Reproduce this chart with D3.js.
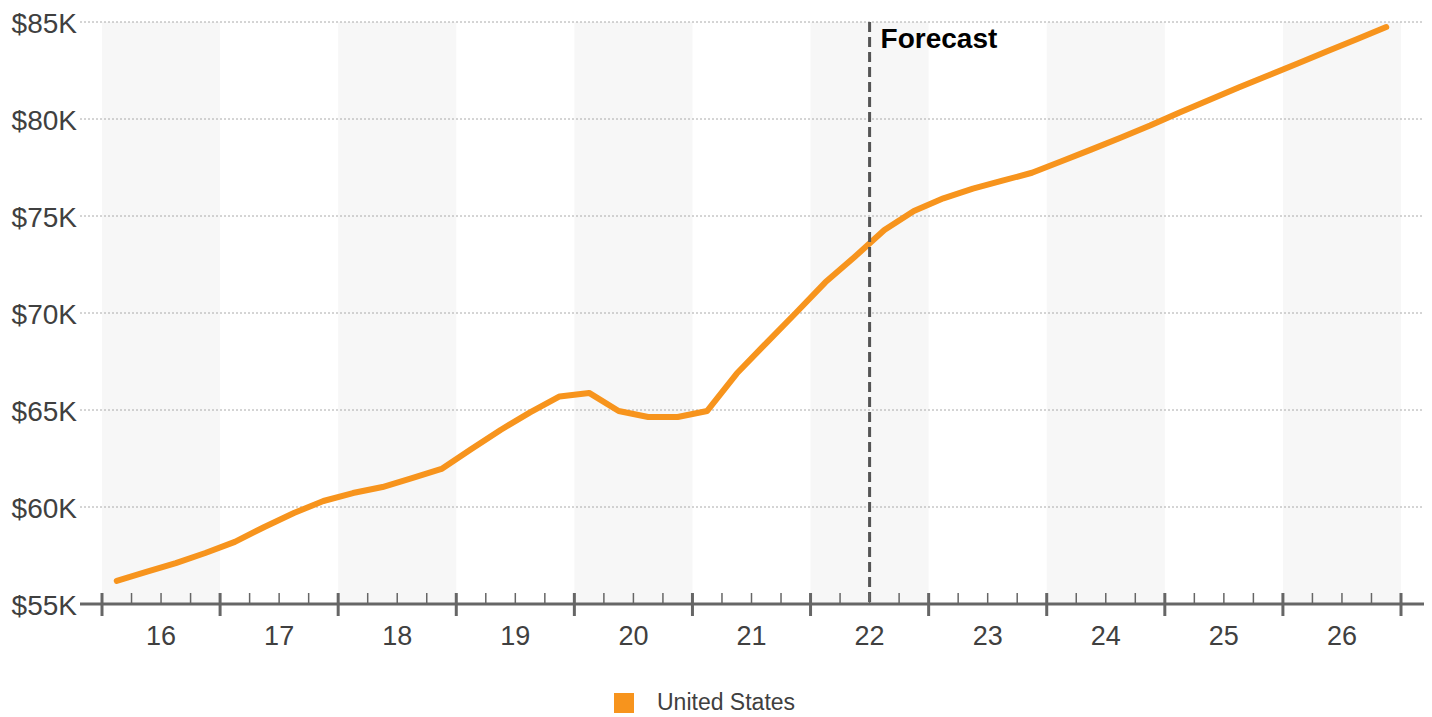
<!DOCTYPE html>
<html>
<head>
<meta charset="utf-8">
<script src="https://cdn.jsdelivr.net/npm/d3@7"></script>
<style>
  html, body { margin: 0; padding: 0; background: #fff; }
  svg { display: block; font-family: "Liberation Sans", Arial, sans-serif; }
</style>
</head>
<body>
<svg id="chart" width="1432" height="717"></svg>
<script>
// Years shown on the axis (two-digit labels) and quarterly values in $K
const years = [16, 17, 18, 19, 20, 21, 22, 23, 24, 25, 26];
const yTicks = [55, 60, 65, 70, 75, 80, 85];
const seriesName = "United States";
const values = [
  56.19, 56.65, 57.11, 57.63,   // 2016
  58.20, 58.97, 59.69, 60.31,   // 2017
  60.72, 61.03, 61.49, 61.96,   // 2018
  62.98, 63.97, 64.88, 65.70,   // 2019
  65.88, 64.95, 64.64, 64.64,   // 2020
  64.95, 66.88, 68.45, 70.00,   // 2021
  71.58, 72.90, 74.28, 75.26,   // 2022
  75.91, 76.41, 76.82, 77.23,   // 2023
  77.82, 78.42, 79.03, 79.66,   // 2024
  80.34, 80.98, 81.62, 82.24,   // 2025
  82.86, 83.49, 84.11, 84.74    // 2026
];
const forecastStart = 22.5; // forecast begins mid-2022

const svg = d3.select("#chart");
const plotL = 102, plotR = 1401, plotT = 22, plotB = 604;

// Continuous time scale in fractional years
const x = d3.scaleLinear().domain([years[0], years[years.length - 1] + 1]).range([plotL, plotR]);
const y = d3.scaleLinear().domain([55, 85]).range([plotB, plotT]);

// Alternating year bands
svg.append("g").selectAll("rect")
  .data(years.filter((d, i) => i % 2 === 0))
  .join("rect")
  .attr("x", d => x(d))
  .attr("y", plotT)
  .attr("width", d => x(d + 1) - x(d))
  .attr("height", plotB - plotT)
  .attr("fill", "#f7f7f7");

// Horizontal dotted gridlines
svg.append("g").selectAll("line")
  .data(yTicks.filter(d => d !== 55))
  .join("line")
  .attr("x1", 80).attr("x2", 1424)
  .attr("y1", d => y(d)).attr("y2", d => y(d))
  .attr("stroke", "#aaa")
  .attr("stroke-width", 1)
  .attr("stroke-dasharray", "2,2");

// Y axis labels
const yAxis = d3.axisLeft(y).tickValues(yTicks).tickSize(0).tickPadding(0)
  .tickFormat(d => "$" + d + "K");
svg.append("g")
  .attr("transform", `translate(77,0)`)
  .call(yAxis)
  .call(g => g.select(".domain").remove())
  .call(g => g.selectAll("text")
    .attr("font-family", "'Liberation Sans', Arial, sans-serif")
    .attr("font-size", 28)
    .attr("fill", "#404040")
    .attr("dy", "0.36em"));

// Line series at quarter midpoints
const pts = values.map((v, i) => [years[0] + (i + 0.5) / 4, v]);
const line = d3.line().x(d => x(d[0])).y(d => y(d[1]));
svg.append("path")
  .datum(pts)
  .attr("d", line)
  .attr("fill", "none")
  .attr("stroke", "#f7941d")
  .attr("stroke-width", 6)
  .attr("stroke-linejoin", "round")
  .attr("stroke-linecap", "round");

// Forecast divider
svg.append("line")
  .attr("x1", x(forecastStart)).attr("x2", x(forecastStart))
  .attr("y1", plotT).attr("y2", plotB)
  .attr("stroke", "#555")
  .attr("stroke-width", 3)
  .attr("stroke-dasharray", "10,5");
svg.append("text")
  .attr("x", x(forecastStart) + 11)
  .attr("y", 48)
  .attr("font-size", 28)
  .attr("font-weight", "bold")
  .attr("fill", "#000")
  .text("Forecast");

// X axis: baseline, major year ticks, minor quarter ticks, year labels
const xa = svg.append("g");
xa.append("line")
  .attr("x1", 80).attr("x2", 1424)
  .attr("y1", plotB).attr("y2", plotB)
  .attr("stroke", "#666").attr("stroke-width", 3);
const majors = d3.range(years[0], years[years.length - 1] + 2);
xa.selectAll("line.major").data(majors).join("line")
  .attr("class", "major")
  .attr("x1", d => x(d)).attr("x2", d => x(d))
  .attr("y1", plotB - 11).attr("y2", plotB + 12)
  .attr("stroke", "#666").attr("stroke-width", 3);
const minors = [];
years.forEach(yr => { for (let q = 1; q < 4; q++) minors.push(yr + q / 4); });
xa.selectAll("line.minor").data(minors).join("line")
  .attr("class", "minor")
  .attr("x1", d => x(d)).attr("x2", d => x(d))
  .attr("y1", plotB - 11).attr("y2", plotB)
  .attr("stroke", "#666").attr("stroke-width", 1.5);
xa.selectAll("text").data(years).join("text")
  .attr("x", d => x(d + 0.5))
  .attr("y", 645)
  .attr("text-anchor", "middle")
  .attr("font-size", 27)
  .attr("fill", "#404040")
  .text(d => d);

// Legend
const lg = svg.append("g");
lg.append("rect")
  .attr("x", 614).attr("y", 693).attr("width", 20).attr("height", 20)
  .attr("fill", "#f7941d");
lg.append("text")
  .attr("x", 657).attr("y", 710)
  .attr("font-size", 23)
  .attr("fill", "#404040")
  .text(seriesName);
</script>
</body>
</html>
